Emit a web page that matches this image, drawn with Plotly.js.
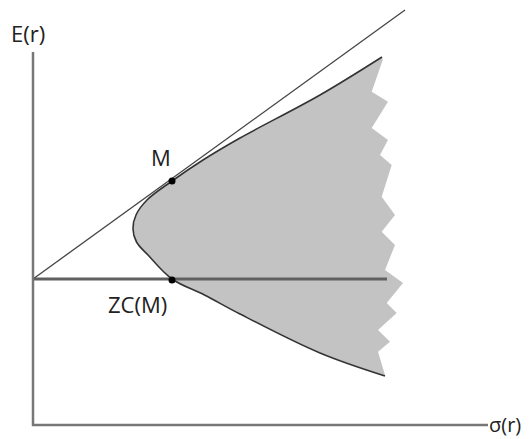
<!DOCTYPE html>
<html>
<head>
<meta charset="utf-8">
<script src="https://cdn.plot.ly/plotly-3.0.1.min.js"></script>
<style>html,body{margin:0;padding:0;background:#fff;}#chart{width:530px;height:439px;}</style>
</head>
<body>
<div id="chart"></div>
<script>
// Efficient frontier (upper and lower branch): sigma, E
var frontierSigma = [349, 287, 207, 170, 139, 114, 103, 100, 103.5, 115, 139, 171.5, 207, 287, 352];
var frontierE     = [368, 330, 287, 265, 244, 225, 210, 196, 183, 170, 146, 130, 111, 72, 49];
// Jagged right edge of the shaded feasible set, bottom to top
var edgeSigma = [352, 345, 357, 345, 363.7, 353.7, 370, 352, 362, 348.7, 362, 348.7, 358.7, 347, 355, 338.7, 355, 338.7, 349.7];
var edgeE     = [50, 73.3, 83.3, 95, 112, 122, 142, 155, 180, 193.3, 210, 228.3, 260, 270, 285, 297, 323.3, 333.3, 365];
// Capital market line and zero-beta line
var rf = 146;
var cmlSigma = [0, 372];
var cmlE = [rf, 415];
var zcLineSigma = [0, 354];
// Portfolios
var pointSigma = [139, 139];
var pointE = [244, 145];
var pointLabels = ["M", "ZC(M)"];
// Axes extent
var axisSigmaMax = 455;
var axisEMax = 373;

var fillX = frontierSigma.concat(edgeSigma);
var fillY = frontierE.concat(edgeE);

var traces = [
  {x: fillX, y: fillY, mode: 'lines', fill: 'toself', fillcolor: '#c3c3c3',
   line: {width: 0, color: 'rgba(0,0,0,0)'}, hoverinfo: 'skip'},
  {x: frontierSigma, y: frontierE, mode: 'lines', line: {color: '#333', width: 1.6, shape: 'spline'}, hoverinfo: 'skip'},
  {x: zcLineSigma, y: [rf, rf], mode: 'lines', line: {color: '#606060', width: 3}, hoverinfo: 'skip'},
  {x: cmlSigma, y: cmlE, mode: 'lines', line: {color: '#444', width: 1.3}, hoverinfo: 'skip'},
  {x: [0, 0, axisSigmaMax], y: [axisEMax, 0, 0], mode: 'lines', line: {color: '#777', width: 2.5}, hoverinfo: 'skip'},
  {x: pointSigma, y: pointE, mode: 'markers', marker: {color: '#000', size: 7}, hoverinfo: 'skip'}
];

var fnt = {family: 'Open Sans, sans-serif', size: 22, color: '#222'};
var layout = {
  width: 530, height: 439,
  margin: {l: 0, r: 0, t: 0, b: 0},
  showlegend: false,
  paper_bgcolor: '#fff', plot_bgcolor: '#fff',
  xaxis: {range: [-33, 497], visible: false, fixedrange: true},
  yaxis: {range: [-14, 425], visible: false, fixedrange: true},
  annotations: [
    {x: -5, y: 392, text: 'E(r)', showarrow: false, font: fnt},
    {x: 128, y: 268, text: pointLabels[0], showarrow: false, font: fnt},
    {x: 104, y: 121, text: pointLabels[1], showarrow: false, font: fnt},
    {x: 472, y: 1, text: 'σ(r)', showarrow: false, borderpad: 0, font: {family: 'Open Sans, sans-serif', size: 20, color: '#222'}}
  ]
};
Plotly.newPlot('chart', traces, layout, {staticPlot: true, displayModeBar: false});
</script>
</body>
</html>
